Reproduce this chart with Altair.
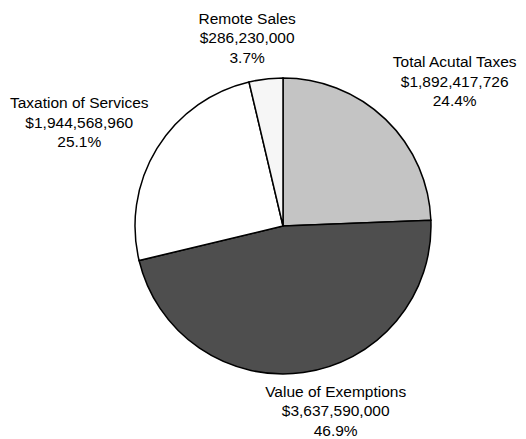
import altair as alt
import pandas as pd

categories = ["Total Acutal Taxes", "Value of Exemptions", "Taxation of Services", "Remote Sales"]
amounts = [1892417726, 3637590000, 1944568960, 286230000]
fills = ["#c4c4c4", "#4e4e4e", "#ffffff", "#f6f6f6"]

df = pd.DataFrame({"cat": categories, "value": amounts, "idx": list(range(len(categories)))})

CX, CY, R = 275, 218, 148

base = (
    alt.Chart(df)
    .transform_joinaggregate(total="sum(value)")
    .transform_window(cum="sum(value)", sort=[alt.SortField("idx")])
    .transform_calculate(
        mid="datum.cum - datum.value / 2",
        label="datum.cat + '\\n' + format(datum.value, '$,') + '\\n' + format(datum.value / datum.total, '.1%')",
    )
)

pie = base.mark_arc(radius=R, stroke="black", strokeWidth=1.5).encode(
    theta=alt.Theta("value:Q", stack=True),
    order=alt.Order("idx:Q"),
    color=alt.Color("cat:N", scale=alt.Scale(domain=categories, range=fills), legend=None),
    x=alt.value(CX),
    y=alt.value(CY),
)

# per-label placement (radius, dx, dy)
LH = 19.5
placement = {
    "Total Acutal Taxes": (200, 33, -LH),
    "Value of Exemptions": (188, 27, -LH - 1),
    "Taxation of Services": (197, -36, -LH),
    "Remote Sales": (189, -14, -LH),
}

layers = [pie]
for c in categories:
    r, dx, dy = placement[c]
    layers.append(
        base.transform_filter(alt.datum.cat == c)
        .mark_text(
            radius=r, dx=dx, dy=dy, lineBreak="\n", lineHeight=LH,
            font="Liberation Sans", fontSize=15.5, color="black",
            align="center", baseline="middle",
        )
        .encode(
            theta=alt.Theta("mid:Q", stack=None),
            text="label:N",
            x=alt.value(CX),
            y=alt.value(CY),
        )
    )

chart = (
    alt.layer(*layers)
    .properties(width=510, height=431, background="white", padding=0, autosize=alt.AutoSizeParams(type="none"))
    .configure_view(stroke=None)
)

chart.save("out.html", embed_options={"renderer": "svg", "actions": False})
